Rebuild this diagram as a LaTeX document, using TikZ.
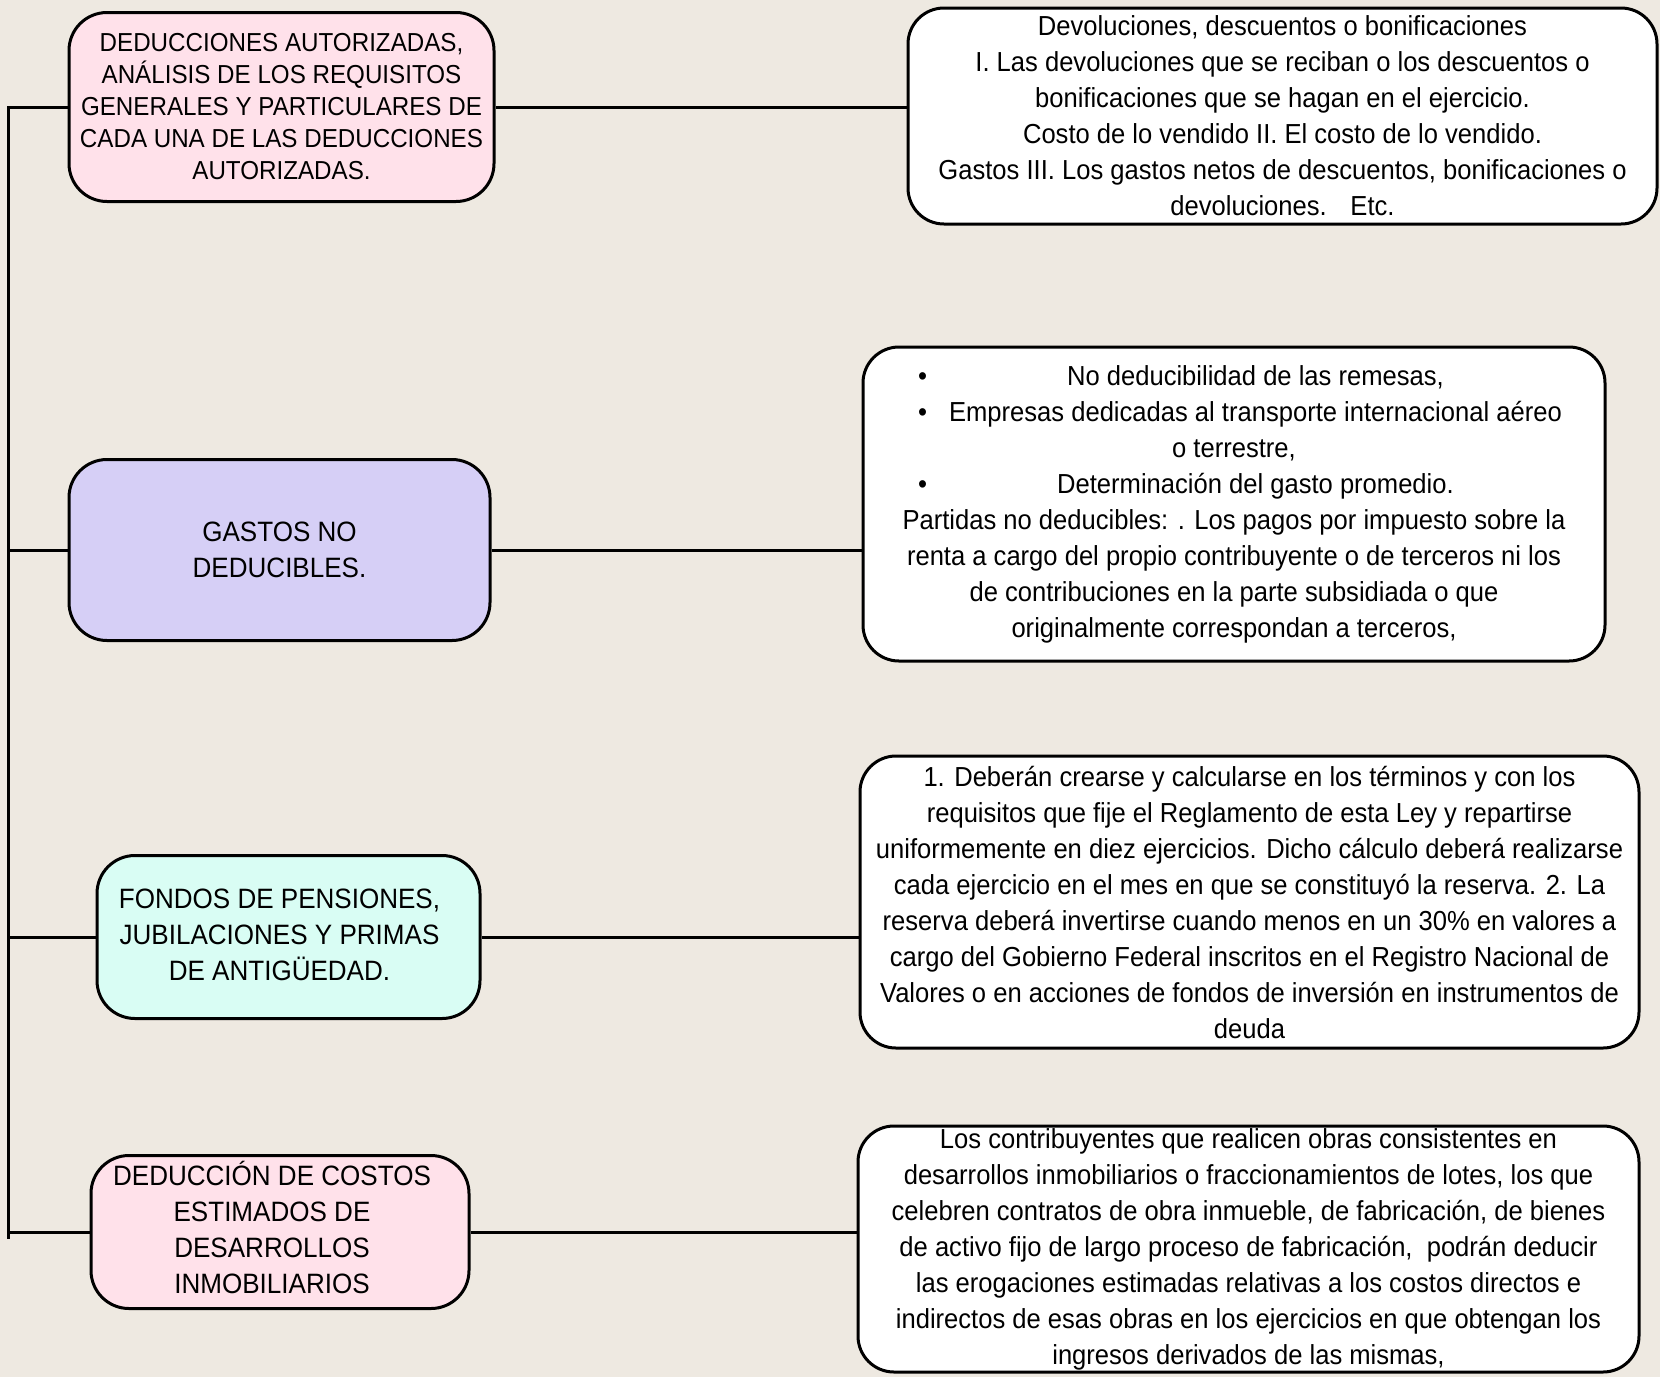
\documentclass[tikz,border=0pt]{standalone}
\usepackage{fontspec}
\setmainfont{Liberation Sans}[FakeStretch=0.93]
\usepackage{tikz}

\definecolor{paper}{HTML}{EEE9E1}
\definecolor{pinkbox}{HTML}{FFE1EA}
\definecolor{lilacbox}{HTML}{D6CFF6}
\definecolor{mintbox}{HTML}{D9FDF4}

% bullet line of the second detail box
\newcommand{\bulletline}[1]{\makebox[660pt][l]{\hspace{14pt}\textbullet\hspace{20pt}\hfill #1\hfill}}
% text block set a little left of the box centre
\newcommand{\leftblock}[2]{\hspace*{-#1}\begin{tabular}{@{}c@{}}#2\end{tabular}}

\begin{document}
\begin{tikzpicture}[x=1pt, y=-1pt,
    topic/.style={draw, line width=3pt, rounded corners=38pt, align=center, inner sep=0pt,
        font=\fontsize{28}{36}\selectfont},
    detail/.style={draw, line width=3pt, rounded corners=36pt, fill=white, align=center, inner sep=0pt,
        font=\fontsize{27.5}{36}\selectfont},
    link/.style={line width=3pt}]

    \fill[paper] (0, 0) rectangle (1660, 1377);
    \useasboundingbox (0, 0) rectangle (1660, 1377);

    % topics on the left
    \node[name=a, topic, fill=pinkbox, minimum width=425pt, minimum height=189pt,
        font=\fontsize{26}{32}\selectfont] at (281.5, 107)
        {DEDUCCIONES AUTORIZADAS,\\ ANÁLISIS DE LOS REQUISITOS\\ GENERALES Y PARTICULARES DE\\
         CADA UNA DE LAS DEDUCCIONES\\ AUTORIZADAS.};
    \node[name=b, topic, fill=lilacbox, minimum width=421pt, minimum height=181pt] at (279.5, 550)
        {GASTOS NO\\ DEDUCIBLES.};
    \node[name=c, topic, fill=mintbox, minimum width=383pt, minimum height=163pt] at (288.5, 937)
        {\leftblock{18pt}{FONDOS DE PENSIONES,\\ JUBILACIONES Y PRIMAS\\ DE ANTIGÜEDAD.}};
    \node[name=d, topic, fill=pinkbox, minimum width=378pt, minimum height=153pt] at (280, 1232)
        {\leftblock{16pt}{DEDUCCIÓN DE COSTOS\\ ESTIMADOS DE\\ DESARROLLOS\\ INMOBILIARIOS}};

    % details on the right
    \node[name=r1, detail, minimum width=749pt, minimum height=216pt] at (1282.5, 116)
        {Devoluciones, descuentos o bonificaciones\\
         I. Las devoluciones que se reciban o los descuentos o\\
         bonificaciones que se hagan en el ejercicio.\\
         Costo de lo vendido II. El costo de lo vendido.\\
         Gastos III. Los gastos netos de descuentos, bonificaciones o\\
         devoluciones. \ \ Etc.};
    \node[name=r2, detail, minimum width=742pt, minimum height=314pt] at (1234, 504)
        {\bulletline{No deducibilidad de las remesas,}\\
         \bulletline{Empresas dedicadas al transporte internacional aéreo}\\
         o terrestre,\\
         \bulletline{Determinación del gasto promedio.}\\
         Partidas no deducibles: . Los pagos por impuesto sobre la\\
         renta a cargo del propio contribuyente o de terceros ni los\\
         de contribuciones en la parte subsidiada o que\\
         originalmente correspondan a terceros,};
    \node[name=r3, detail, minimum width=779pt, minimum height=292pt] at (1249.5, 902)
        {1. Deberán crearse y calcularse en los términos y con los\\
         requisitos que fije el Reglamento de esta Ley y repartirse\\
         uniformemente en diez ejercicios. Dicho cálculo deberá realizarse\\
         cada ejercicio en el mes en que se constituyó la reserva. 2. La\\
         reserva deberá invertirse cuando menos en un 30\% en valores a\\
         cargo del Gobierno Federal inscritos en el Registro Nacional de\\
         Valores o en acciones de fondos de inversión en instrumentos de\\
         deuda};
    \node[name=r4, detail, minimum width=781pt, minimum height=246pt] at (1248.5, 1249)
        {Los contribuyentes que realicen obras consistentes en\\
         desarrollos inmobiliarios o fraccionamientos de lotes, los que\\
         celebren contratos de obra inmueble, de fabricación, de bienes\\
         de activo fijo de largo proceso de fabricación, \ podrán deducir\\
         las erogaciones estimadas relativas a los costos directos e\\
         indirectos de esas obras en los ejercicios en que obtengan los\\
         ingresos derivados de las mismas,};

    % spine and links
    \coordinate (spine) at (8.5, 1239);
    \draw[link] (a.west) -| (spine);
    \foreach \n in {b, c, d}
        \draw[link] (\n.west) -- (\n.west -| spine);
    \foreach \l/\r in {a/r1, b/r2, c/r3, d/r4}
        \draw[link] (\l.east) -- (\l.east -| \r.west);
\end{tikzpicture}
\end{document}
